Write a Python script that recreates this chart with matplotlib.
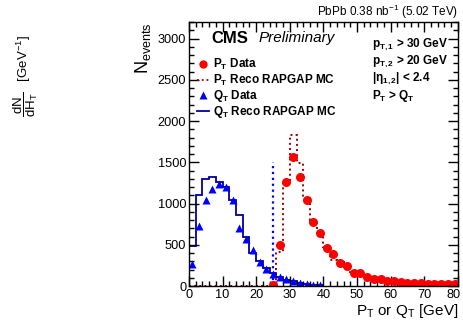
import numpy as np
import matplotlib
matplotlib.use("Agg")
import matplotlib.pyplot as plt
import matplotlib.transforms as mtransforms
from matplotlib.ticker import MultipleLocator
from matplotlib.lines import Line2D

plt.rcParams['font.family'] = ['Liberation Sans', 'DejaVu Sans']
plt.rcParams['mathtext.fontset'] = 'custom'
plt.rcParams['mathtext.rm'] = 'Liberation Sans'
plt.rcParams['mathtext.it'] = 'Liberation Sans:italic'
plt.rcParams['mathtext.bf'] = 'Liberation Sans:bold'

# binning: 2 GeV bins from 0 to 80
edges = np.arange(0, 82, 2)

# Q_T data (bin centres 1..39)
qt_x = [1, 3, 5, 7, 9, 11, 13, 15, 17, 19, 21, 23, 25, 27, 29, 31, 33, 35, 37, 39]
qt_data = [265, 727, 1044, 1180, 1235, 1195, 1044, 705, 568, 440,
           286, 204, 144, 107, 79, 62, 38, 26, 18, 14]

# P_T data (bin centres 25..79)
pt_x = [25, 27, 29, 31, 33, 35, 37, 39, 41, 43, 45, 47, 49, 51,
        53, 55, 57, 59, 61, 63, 65, 67, 69, 71, 73, 75, 77, 79]
pt_data = [15, 496, 1267, 1563, 1327, 1044, 780, 646, 462, 384, 284, 243, 152, 152,
           111, 88, 79, 62, 58, 48, 40, 36, 32, 30, 27, 25, 24, 22]

# Q_T reco RAPGAP MC (bins 0-2 ... 38-40)
qt_mc = [488, 1105, 1296, 1318, 1257, 1198, 1044, 860, 594, 405,
         308, 213, 152, 110, 75, 55, 40, 28, 18, 12]

# P_T reco RAPGAP MC (bins 0-2 ... 78-80)
pt_mc = [0, 0, 0, 0, 0, 0, 0, 0, 0, 0, 0, 0, 0, 415, 1287, 1835, 1490, 1064, 800, 618,
         476, 310, 290, 235, 165, 140, 112, 90, 75, 62, 52, 45, 38, 32, 28, 24, 20, 17, 15, 13]

cut_x = 25
cut_h = 1500

fig = plt.figure(figsize=(4.63, 3.21), dpi=100)
ax = fig.add_axes([0.408, 0.109, 0.581, 0.822])

ax.stairs(pt_mc, edges, color='#990000', linestyle=':', lw=1.4)
ax.stairs(qt_mc, edges[:len(qt_mc) + 1], color='#000099', lw=1.3)
ax.plot([cut_x, cut_x], [0, cut_h], color='#0000ff', linestyle=':', lw=1.6)
ax.plot(qt_x, qt_data, '^', color='#0000ff', ms=5.5, mec='none')
ax.plot(pt_x, pt_data, 'o', color='#ff0000', ms=6.5, mec='none')

ax.set_xlim(0, 80)
ax.set_ylim(0, 3200)
ax.xaxis.set_major_locator(MultipleLocator(10))
ax.xaxis.set_minor_locator(MultipleLocator(2))
ax.yaxis.set_major_locator(MultipleLocator(500))
ax.yaxis.set_minor_locator(MultipleLocator(100))
ax.tick_params(which='both', direction='in', top=True, right=True, labelsize=9.2, pad=2)
ax.tick_params(which='major', length=7, width=1)
ax.tick_params(which='minor', length=3.5, width=1)
for s in ax.spines.values():
    s.set_linewidth(1)

# nudge the last x label so it stays inside the figure
fig.canvas.draw()
shift = mtransforms.ScaledTranslation(-4 / 100, 0, fig.dpi_scale_trans)
for lab in ax.get_xticklabels():
    if lab.get_text() == '80':
        lab.set_transform(lab.get_transform() + shift)

ax.set_xlabel(r'P$_{\mathregular{T}}$ or Q$_{\mathregular{T}}$ [GeV]', fontsize=11, loc='right', labelpad=1)
ax.set_ylabel(r'N$_{\mathregular{events}}$', fontsize=13, loc='top', labelpad=3)

fig.text(0.989, 0.962, r'PbPb 0.38 nb$^{\mathregular{-1}}$ (5.02 TeV)', ha='right', va='center', fontsize=8.5)
fig.text(0.056, 0.636, r'$\dfrac{\mathregular{dN}}{\mathregular{dH_T}}$   [GeV$^{\mathregular{-1}}$]',
         rotation=90, ha='center', va='bottom', fontsize=9.5)

ax.text(0.085, 0.939, 'CMS', transform=ax.transAxes, fontsize=12, fontweight='bold', va='center')
ax.text(0.257, 0.939, 'Preliminary', transform=ax.transAxes, fontsize=11, style='italic', va='center')

handles = [
    Line2D([], [], marker='o', color='#ff0000', ls='none', ms=6, mec='none'),
    Line2D([], [], color='#990000', ls=':', lw=1.3),
    Line2D([], [], marker='^', color='#0000ff', ls='none', ms=5.5, mec='none'),
    Line2D([], [], color='#000099', lw=1.3),
]
labels = [r'$\mathbf{P_T}$ Data', r'$\mathbf{P_T}$ Reco RAPGAP MC',
          r'$\mathbf{Q_T}$ Data', r'$\mathbf{Q_T}$ Reco RAPGAP MC']
leg = ax.legend(handles, labels, loc='upper left', bbox_to_anchor=(0.0, 0.898), frameon=False,
                prop={'weight': 'bold', 'size': 8.5}, handlelength=1.0, handletextpad=0.3,
                labelspacing=0.02, borderaxespad=0.3)

cuts = [r'$\mathbf{p_{T,1}}$ > 30 GeV', r'$\mathbf{p_{T,2}}$ > 20 GeV',
        r'$\mathbf{|\eta_{1,2}|}$ < 2.4', r'$\mathbf{P_T}$ > $\mathbf{Q_T}$']
for i, c in enumerate(cuts):
    ax.text(0.68, 0.913 - i * 0.064, c, transform=ax.transAxes, fontsize=8.5,
            fontweight='bold', va='center')

fig.savefig('out.png', dpi=100)
